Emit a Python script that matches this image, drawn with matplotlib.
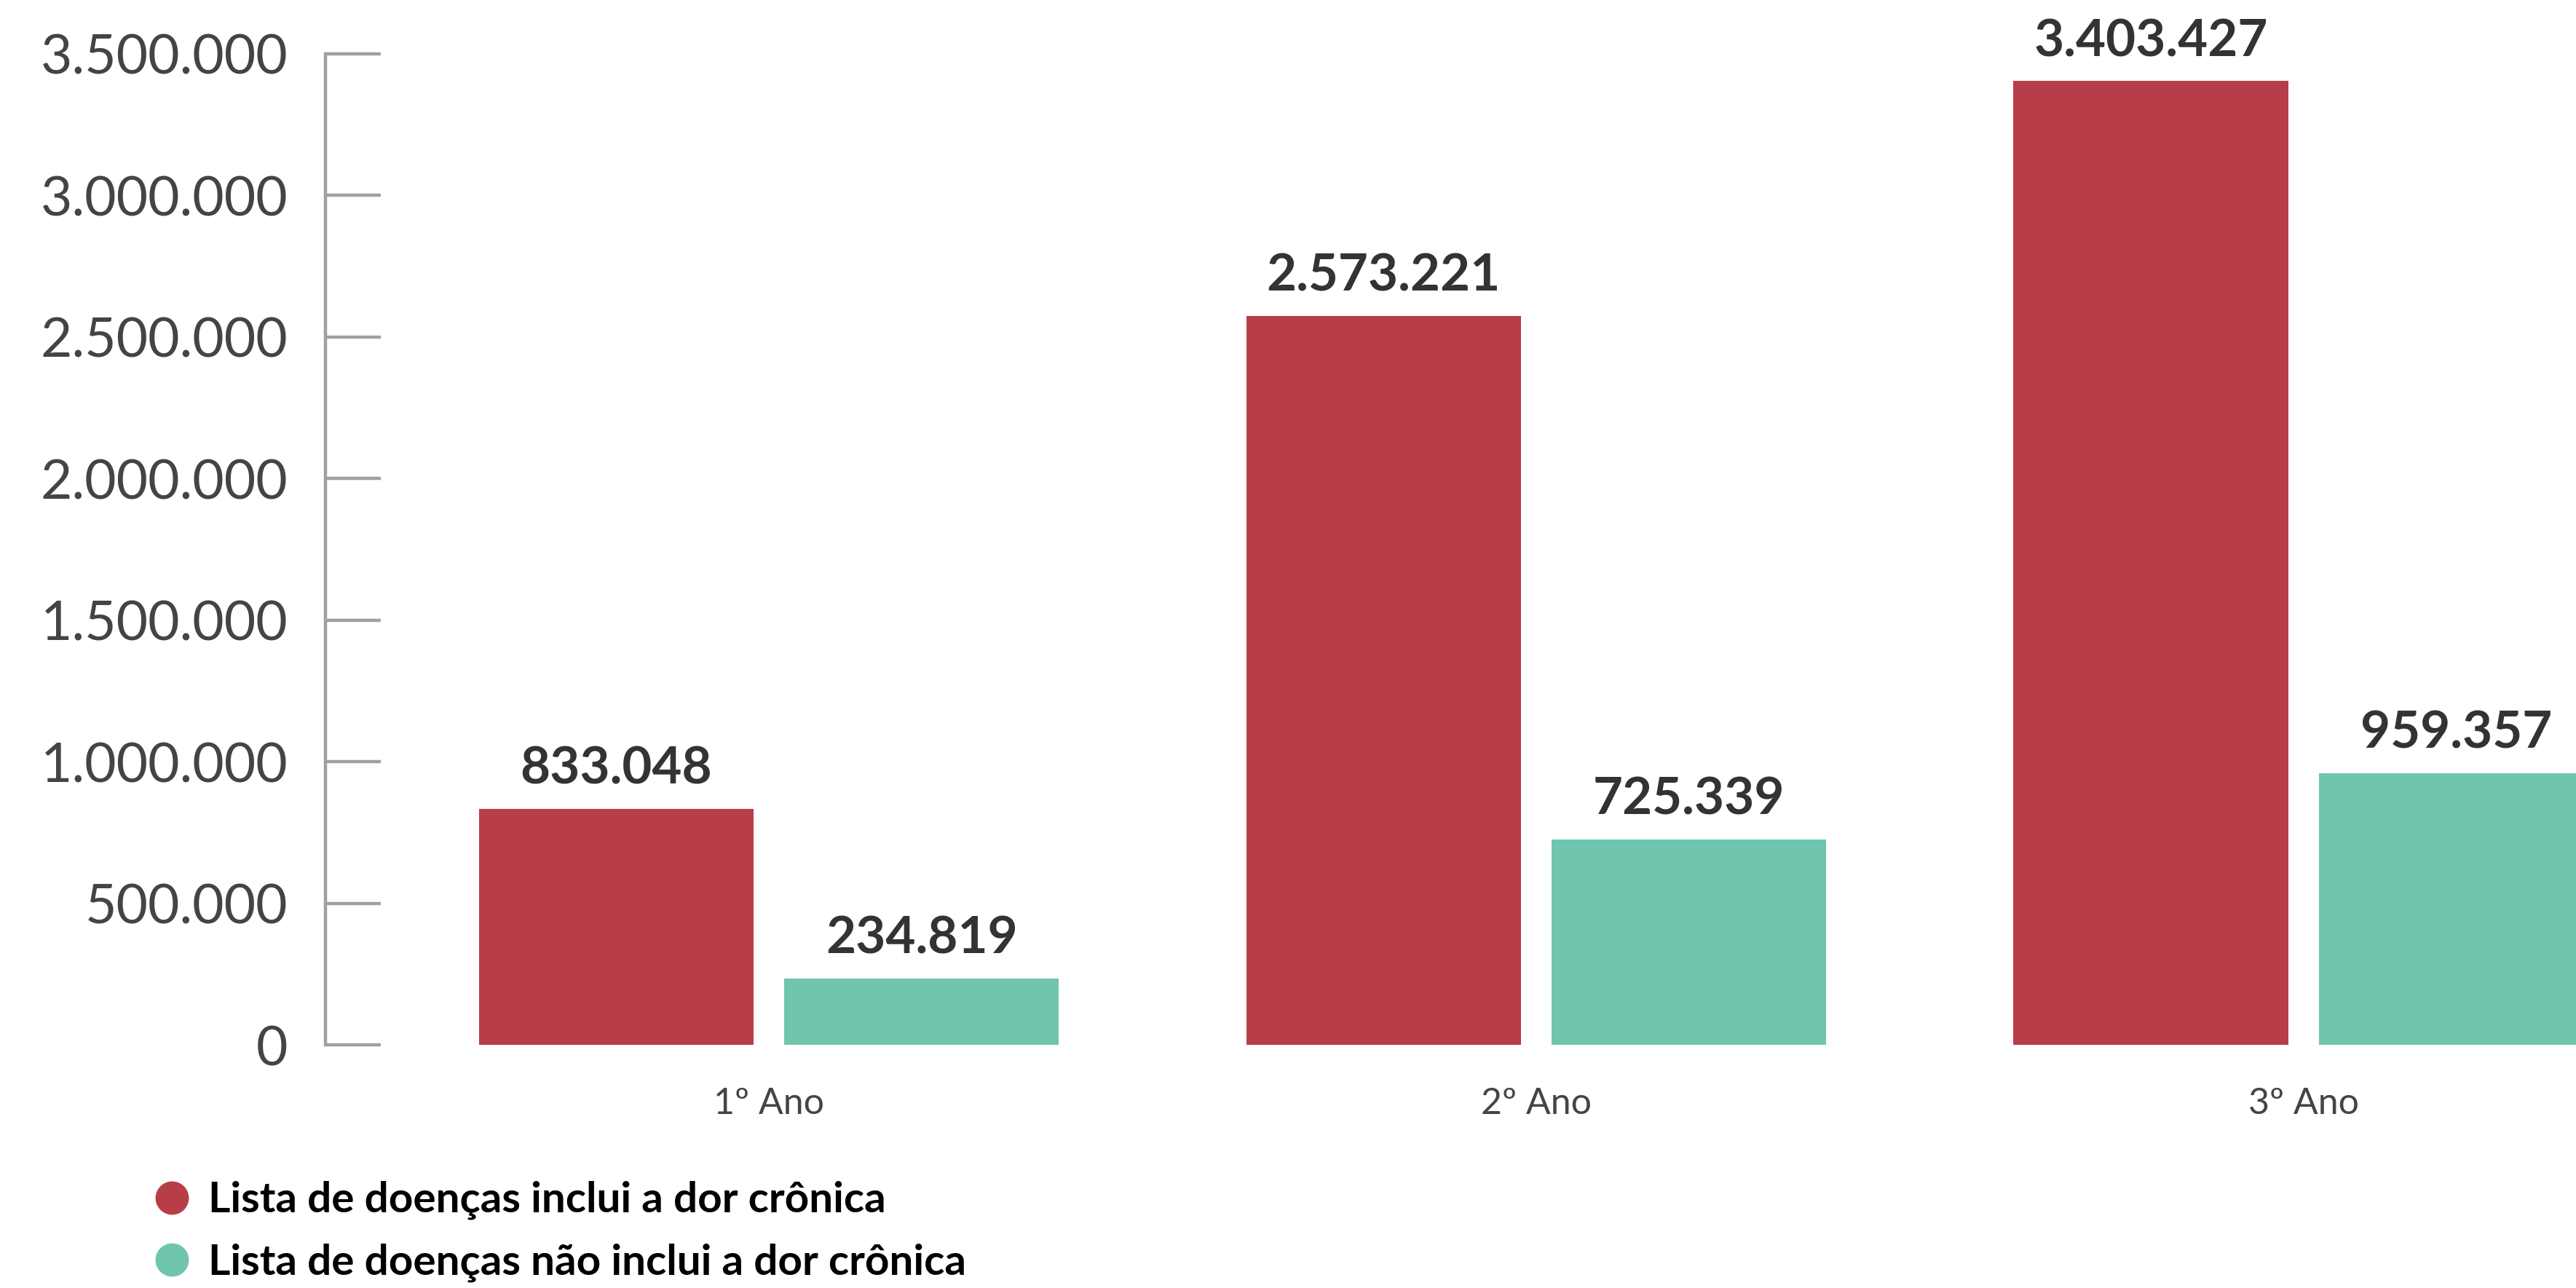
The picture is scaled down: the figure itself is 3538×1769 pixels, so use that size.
import matplotlib
matplotlib.use("Agg")
import matplotlib.pyplot as plt
from matplotlib.lines import Line2D
import numpy as np

# ── 데이터 ─────────────────────────────────────────
anos = ["1º Ano", "2º Ano", "3º Ano"]
com_dor = [833048, 2573221, 3403427]
sem_dor = [234819, 725339, 959357]
serie_nomes = ["Lista de doenças inclui a dor crônica",
               "Lista de doenças não inclui a dor crônica"]
y_ticks = [0, 500000, 1000000, 1500000, 2000000, 2500000, 3000000, 3500000]

COR_VERMELHO = "#B73E48"
COR_VERDE = "#6FC5AE"
FONTE = ["Lato", "DejaVu Sans"]


def fmt_br(v):
    return f"{v:,.0f}".replace(",", ".")


plt.rcParams["font.family"] = FONTE

fig = plt.figure(figsize=(35.38, 17.69), dpi=100)
ax = fig.add_axes([0.1263, 0.1888, 0.8737, 0.7695])

x = np.arange(len(anos))
w = 0.358
off = 0.199
bars1 = ax.bar(x - off, com_dor, width=w, color=COR_VERMELHO)
bars2 = ax.bar(x + off, sem_dor, width=w, color=COR_VERDE)

for bars, vals in ((bars1, com_dor), (bars2, sem_dor)):
    for b, v in zip(bars, vals):
        ax.annotate(fmt_br(v), (b.get_x() + b.get_width() / 2, v),
                    xytext=(0, 16), textcoords="offset points",
                    ha="center", va="bottom", fontsize=51,
                    fontweight="bold", color="#333333", clip_on=False)

ax.set_xlim(-0.578, 2.355)
ax.set_ylim(0, 3500000)
ax.set_yticks(y_ticks)
ax.set_yticklabels([fmt_br(v) for v in y_ticks])
ax.set_xticks(x)
ax.set_xticklabels(anos)

for s in ("top", "right", "bottom"):
    ax.spines[s].set_visible(False)
ax.spines["left"].set_color("#A0A0A0")
ax.spines["left"].set_linewidth(3.2)

ax.tick_params(axis="y", direction="in", length=55, width=3.2, color="#A0A0A0",
               pad=37, labelsize=54, labelcolor="#444444")
ax.tick_params(axis="x", length=0, pad=42, labelsize=36, labelcolor="#444444")

handles = [Line2D([], [], marker="o", linestyle="", markersize=32, color=c)
           for c in (COR_VERMELHO, COR_VERDE)]
fig.legend(handles, serie_nomes, loc="lower left", bbox_to_anchor=(0.052, -0.012),
           frameon=False, prop={"size": 42, "weight": "bold"},
           handlelength=0.8, handletextpad=0.45, labelspacing=0.55, borderpad=0)

fig.savefig("out.png", dpi=100)
